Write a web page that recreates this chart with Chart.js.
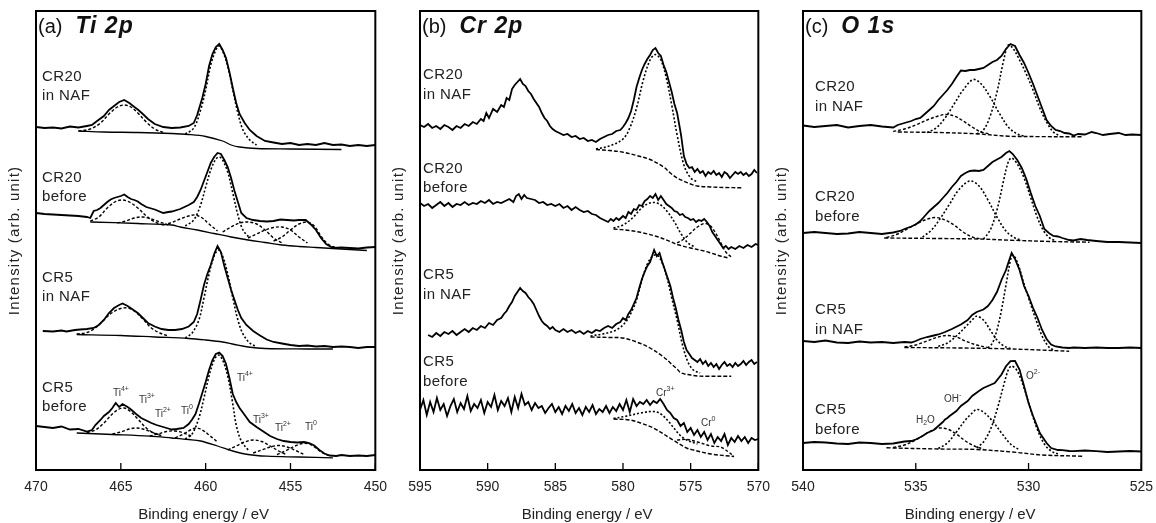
<!DOCTYPE html>
<html>
<head>
<meta charset="utf-8">
<script src="https://cdn.jsdelivr.net/npm/chart.js@4.4.1/dist/chart.umd.min.js"></script>
<style>
  body { margin: 0; background: #fff; width: 1156px; height: 523px; overflow: hidden; position: relative; }
  canvas { position: absolute; top: 0; }
</style>
</head>
<body>
<canvas id="tiChart" width="396" height="523" style="left:0px"></canvas>
<canvas id="crChart" width="395" height="523" style="left:384px"></canvas>
<canvas id="oChart" width="395" height="523" style="left:767px"></canvas>
<script>
/* ---- (a) Ti 2p : [binding energy, intensity] ---- */
const tiNaf20 = [[470,343],[469.5,342],[469,342.5],[468.5,341.5],[468,343.5],[467.5,342.5],[467,344],[466.7,345],[466.4,349],[466,354],[465.7,360],[465.4,364],[465.1,368],[464.8,370],[464.5,367],[464.2,363],[464,360.5],[463.7,356],[463.4,351],[463,346],[462.5,343],[462,342],[461.5,342.5],[461,344],[460.7,347],[460.5,355],[460.2,372],[460,386],[459.8,404],[459.6,416],[459.4,423],[459.2,426],[459,420],[458.8,412],[458.6,398],[458.4,382],[458.2,367],[458,356],[457.7,347],[457.4,340],[457,334],[456.5,329],[456,327.5],[455.5,326],[455,327],[454.5,325],[454,326],[453.5,325],[453,327],[452.5,325],[452,325.5],[451.5,324],[451,325],[450.5,324],[450,325]];
const tiNaf20Bg = [[467.5,339],[466,338],[464,337.5],[462,336.5],[461,335.5],[460,333.5],[459,329],[458.5,325],[458,323],[457,321.5],[455,321],[452,320.5]];
const tiNaf20P1 = [[467.5,339],[466.8,341],[466.2,347],[465.7,356],[465.2,363],[464.8,365],[464.4,363],[464,357],[463.5,348],[463,341],[462.5,337.5]];
const tiNaf20P3 = [[461.2,336],[460.7,342],[460.3,360],[460,380],[459.7,405],[459.4,420],[459.2,424],[459,419],[458.7,404],[458.4,380],[458.1,357],[457.8,340],[457.4,330],[457,325]];

const tiBef20 = [[470,257],[469.5,256],[469,255.5],[468.5,255],[468,254.5],[467.5,254],[467,253],[466.8,252],[466.6,259],[466.4,260],[466.2,262],[466,265],[465.8,268],[465.6,270.5],[465.4,272],[465.2,273],[465,274],[464.8,275.5],[464.6,273],[464.4,271],[464.2,270],[464,268.5],[463.8,266],[463.5,263],[463,260.5],[462.5,257],[462.2,258],[462,258.5],[461.5,261],[461,265],[460.7,268],[460.5,273],[460.3,280],[460.1,289],[459.9,298],[459.7,307],[459.5,313],[459.3,317],[459.1,316],[458.9,310],[458.7,303],[458.5,292],[458.3,279],[458.1,268],[457.9,257],[457.6,252],[457.2,250],[456.8,249],[456.4,248.5],[456,249],[455.6,250.5],[455.2,250],[454.8,249.5],[454.5,250],[454.1,250],[453.8,245.5],[453.5,240],[453.2,232],[452.9,226],[452.5,222],[452,222.5],[451.5,222],[451,221.5],[450.5,222.5],[450,223]];
const tiBef20Bg = [[466.8,248],[464,246.5],[462,245],[461.5,243],[460.5,240],[459.5,236.5],[458.5,233],[457.5,230],[456.5,227.5],[455.5,225],[454.5,223.5],[453.5,222.5],[452.5,221.5],[451.5,220.5],[450.5,219.5]];
const tiBef20Ti4a = [[466.8,249],[466.3,253],[465.8,262],[465.3,268.5],[464.9,270],[464.5,268],[464,262],[463.5,254],[463,248],[462.5,245]];
const tiBef20Ti3a = [[465.2,247],[464.7,249],[464.2,252],[463.7,253],[463.2,251],[462.7,248],[462.2,245]];
const tiBef20Ti0a = [[462.5,245],[462,247.5],[461.5,251],[461,254],[460.6,255],[460.2,252],[459.8,246],[459.3,239]];
const tiBef20Ti4b = [[461.2,244],[460.7,250],[460.3,265],[460,283],[459.7,300],[459.4,311],[459.2,313],[459,310],[458.7,298],[458.4,277],[458.1,255],[457.8,240],[457.4,232]];
const tiBef20Ti3b = [[459,238],[458.5,243],[458,247],[457.5,248],[457,246],[456.5,240],[456,232],[455.5,227]];
const tiBef20Ti2b = [[457.5,232],[457,236],[456.5,240],[456,242.5],[455.5,243],[455,240],[454.5,233],[454,227]];
const tiBef20Ti0b = [[456,229],[455.5,233],[455,240],[454.5,246],[454,248],[453.6,244],[453.2,234],[452.8,226],[452.3,222]];

const tiNaf5 = [[469.6,139],[469,138.5],[468.5,139.5],[468.2,138.5],[467.7,140],[467.4,140.5],[467,141],[466.6,142],[466.3,145],[466,150],[465.7,157],[465.4,162],[465.1,165],[464.9,166.5],[464.6,164],[464.3,160.5],[464,157],[463.7,152],[463.4,147],[463,143.5],[462.6,141],[462.2,140],[461.8,140],[461.4,141],[461,143.5],[460.7,148],[460.5,156],[460.3,170],[460.1,185],[459.9,196],[459.7,205],[459.5,216],[459.3,224],[459.1,218],[458.9,204],[458.7,192],[458.5,180],[458.3,170],[458.1,160],[457.9,152],[457.6,145],[457.2,139],[456.8,134.5],[456.4,130.5],[456,128],[455.5,126.5],[455,125],[454.5,124],[454,124.5],[453.5,123.5],[453,124],[452.5,123],[452,123.5],[451.5,123],[451,122],[450.5,123],[450,123]];
const tiNaf5Bg = [[467.6,135.5],[465,134.5],[463,133],[461,131.5],[460,130],[459,128],[458.3,125.5],[457.5,123],[456.5,121.5],[454,121],[452.5,121]];
const tiNaf5P1 = [[467.6,136],[467,137.5],[466.5,142],[466,150],[465.5,157.5],[465,161.5],[464.6,162],[464.2,159],[463.7,151],[463.2,142],[462.7,137],[462.2,134]];
const tiNaf5P3 = [[461.2,132],[460.8,137],[460.4,150],[460.1,172],[459.8,196],[459.5,214],[459.25,220],[459,214],[458.7,196],[458.4,172],[458.1,150],[457.8,136],[457.4,127],[457,123.5]];

const tiBef5 = [[470,44],[469.5,43],[469,42],[468.5,43.5],[468,40.5],[467.5,41],[467,38.5],[466.7,40],[466.5,45],[466.2,50],[466,54],[465.7,58],[465.5,62],[465.3,67],[465.1,63],[464.9,66],[464.6,63],[464.4,60.5],[464.1,56],[463.8,52],[463.5,49.5],[463.2,47],[462.9,45],[462.6,43.5],[462.3,42],[462,40.5],[461.7,41],[461.3,42],[461,46],[460.8,50.5],[460.6,56],[460.4,66],[460.2,77],[460,88],[459.8,100],[459.6,110],[459.4,116],[459.2,117.5],[459,114],[458.8,106],[458.6,92],[458.4,76],[458.2,68],[458,62],[457.7,55],[457.4,48],[457,43],[456.6,38.5],[456.2,34],[455.8,31],[455.4,29],[455,28],[454.6,27.5],[454.2,28],[453.9,27],[453.6,24.5],[453.3,20],[453,16.5],[452.7,14.5],[452.3,14],[452,15],[451.5,14],[451,14.5],[450.5,14],[450,15]];
const tiBef5Bg = [[467.6,37],[465.5,35.5],[463.3,33.8],[462,32],[461,30.5],[460.3,29],[459.3,24],[458.4,19],[457.5,15.5],[456.4,13.8],[454.5,13],[452.5,12.2]];
const tiBef5Ti4a = [[467,37.5],[466.5,40],[466,47],[465.5,56],[465.1,61],[464.8,62],[464.4,58],[464,51],[463.5,42],[463,36.5],[462.5,34]];
const tiBef5Ti3a = [[465.5,36],[465,38],[464.5,41],[464.1,42],[463.7,41],[463.2,38],[462.7,35]];
const tiBef5Ti2a = [[463.3,34],[462.8,36],[462.3,38.5],[461.8,39],[461.3,37],[460.8,33.5]];
const tiBef5Ti0a = [[461.8,32],[461.3,36],[460.9,40],[460.55,42],[460.2,40],[459.8,35],[459.3,28]];
const tiBef5Ti4b = [[461.2,31],[460.8,36],[460.4,52],[460.1,72],[459.8,94],[459.5,110],[459.25,115],[459,110],[458.7,94],[458.4,66],[458.2,45],[457.9,29],[457.5,20]];
const tiBef5Ti3b = [[458.7,20],[458.2,24],[457.7,28],[457.2,30],[456.7,28.5],[456.2,24],[455.7,19],[455.2,15]];
const tiBef5Ti2b = [[457.2,17],[456.7,20],[456.2,23],[455.7,24.5],[455.2,23],[454.7,19.5],[454.2,15.5]];
const tiBef5Ti0b = [[455.8,15.5],[455.3,19],[454.8,23.5],[454.3,26.5],[453.9,26],[453.5,22],[453.1,17],[452.6,14]];

/* ---- (b) Cr 2p ---- */
const crNaf20 = [[595,345],[594.7,343],[594.4,346],[594.1,342],[593.8,344],[593.5,341],[593.2,345],[592.9,343],[592.6,340],[592.3,344],[592,342],[591.7,346],[591.4,344],[591.1,348],[590.8,346],[590.5,351],[590.3,349],[590.1,357],[589.9,352],[589.6,361],[589.3,358],[589,365],[588.8,363],[588.6,372],[588.4,370],[588.2,381],[588,385],[587.8,388],[587.6,391],[587.4,386],[587.2,384],[587,379],[586.8,376],[586.6,371],[586.4,367],[586.2,363],[586,357],[585.8,352],[585.6,349],[585.4,344],[585.2,341],[585,339],[584.7,337],[584.4,335],[584.1,336],[583.8,333],[583.5,334],[583.2,331],[582.9,332],[582.6,329],[582.3,330],[582,328],[581.7,331],[581.4,333],[581.1,335],[580.8,336],[580.5,339],[580.2,340],[580,343],[579.8,347],[579.6,352],[579.4,359],[579.2,370],[579,383],[578.8,392],[578.6,400],[578.4,406],[578.2,411],[578,415],[577.8,420],[577.6,422],[577.4,417],[577.2,414],[577,405],[576.8,398],[576.6,388],[576.4,378],[576.2,366],[576,357],[575.8,342],[575.7,334],[575.5,314],[575.3,306],[575.1,302],[574.9,303],[574.7,298],[574.5,301],[574.3,297],[574.1,299],[573.9,294],[573.7,298],[573.5,296],[573.3,299],[573.1,295],[572.9,297],[572.7,293],[572.5,298],[572.3,296],[572.1,292],[571.9,295],[571.7,298],[571.5,296],[571.3,298],[571.1,295],[570.9,297],[570.7,294],[570.5,296],[570.3,300],[570.1,297]];
const crNaf20Bg = [[582,320.5],[581,319.5],[580,317.8],[579,314.5],[578,310.5],[577,303],[576.5,297],[576,292],[575.5,288.8],[575,286],[574.5,284],[573.5,283],[572.5,282.5],[571.2,282.2]];
const crNaf20Cr3 = [[582,321],[581,324],[580,331],[579.5,342],[579,362],[578.5,390],[578,410],[577.6,415.5],[577.2,410],[576.8,392],[576.4,365],[576,335],[575.5,305],[575,292],[574.5,288]];

const crBef20 = [[595,267],[594.7,264],[594.4,266],[594.1,262],[593.8,265],[593.5,268],[593.2,264],[592.9,267],[592.6,263],[592.3,266],[592,265],[591.7,268],[591.4,265],[591.1,267],[590.8,266],[590.5,269],[590.2,267],[589.9,270],[589.6,266],[589.3,268],[589,267],[588.7,269],[588.4,271],[588.1,268],[587.9,274],[587.7,276],[587.5,271],[587.3,275],[587.1,272],[586.8,271],[586.5,270],[586.2,267],[585.9,268],[585.6,265],[585.3,266],[585,264],[584.7,266],[584.4,262],[584.1,264],[583.8,260],[583.5,263],[583.2,260],[582.9,258],[582.6,259],[582.3,256],[582,255],[581.7,252],[581.4,250],[581.1,248],[580.9,251],[580.7,249],[580.5,252],[580.3,250],[580,254],[579.8,252],[579.6,258],[579.4,256],[579.2,261],[579,260],[578.8,265],[578.6,264],[578.4,269],[578.2,271],[578,274],[577.8,272],[577.6,276],[577.4,270],[577.2,274],[577,270],[576.8,266],[576.6,264],[576.4,262],[576.2,259],[576,258],[575.8,255],[575.6,256],[575.4,253],[575.2,252],[575,250],[574.8,251],[574.6,248],[574.4,250],[574.2,249],[574,251],[573.8,248],[573.6,244],[573.4,238],[573.2,234],[573,230],[572.8,226],[572.6,222],[572.4,224],[572.2,221],[572,223],[571.7,221],[571.4,224],[571.1,222],[570.8,225],[570.5,223],[570.2,226],[570,225]];
const crBef20Bg = [[580.7,241],[579.5,239.5],[578.5,237],[577.5,233.5],[576.5,228.5],[576,225.5],[575,222],[574,219],[573.5,217],[572.8,214],[572.2,212]];
const crBef20Cr3 = [[580.7,242],[580,245],[579.3,252],[578.7,261],[578.2,266],[577.7,267.5],[577.2,265],[576.7,258],[576.2,248],[575.7,236],[575.2,227],[574.7,223]];
const crBef20Cr0 = [[576,227],[575.5,231],[575,237],[574.5,243],[574,246.5],[573.6,245],[573.2,238],[572.8,228],[572.4,218],[572,213]];

const crNaf5 = [[594.4,135],[594.1,133],[593.8,137],[593.5,134],[593.2,138],[592.9,136],[592.6,139],[592.3,135],[592,138],[591.7,141],[591.4,138],[591.1,142],[590.8,140],[590.5,144],[590.2,142],[589.9,147],[589.6,145],[589.3,150],[589,152],[588.8,156],[588.6,159],[588.4,164],[588.2,168],[588,174],[587.8,178],[587.6,182],[587.4,179],[587.2,177],[587,173],[586.8,170],[586.6,166],[586.4,160],[586.2,154],[586,149],[585.8,146],[585.6,144],[585.4,141],[585.2,143],[585,140],[584.7,138],[584.4,141],[584.1,138],[583.8,140],[583.5,137],[583.2,139],[582.9,136],[582.6,139],[582.3,137],[582,140],[581.7,139],[581.4,142],[581.1,144],[580.8,142],[580.5,146],[580.2,148],[580,152],[579.8,150],[579.6,156],[579.4,160],[579.2,166],[579,172],[578.8,182],[578.6,191],[578.4,198],[578.2,204],[578,208],[577.8,216],[577.7,220],[577.5,214],[577.3,217],[577.1,208],[576.9,200],[576.7,192],[576.5,184],[576.3,172],[576.1,162],[575.9,150],[575.7,140],[575.5,128],[575.3,120],[575.1,116],[574.9,112],[574.7,110],[574.5,108],[574.3,111],[574.1,106],[573.9,109],[573.7,104],[573.5,107],[573.3,103],[573.1,106],[572.9,101],[572.7,105],[572.5,108],[572.3,104],[572.1,106],[571.9,103],[571.7,107],[571.5,104],[571.3,106],[571.1,109],[570.9,105],[570.7,108],[570.5,110],[570.3,106],[570.1,108]];
const crNaf5Bg = [[582.4,133],[581,132.5],[580,132],[579,128],[578,122],[577,113],[576.5,107],[576,101],[575.7,97],[575,95],[574.5,94],[573.8,93.8],[572,93.8]];
const crNaf5Cr3 = [[582.4,134],[581.5,136],[580.5,140],[579.8,148],[579.3,160],[579,170],[578.6,190],[578.2,206],[577.8,214],[577.5,215],[577.2,210],[576.8,195],[576.4,172],[576,150],[575.6,125],[575.2,108],[574.8,100],[574.3,97]];

const crBef5 = [[595,60],[594.75,70],[594.5,55],[594.25,68],[594,58],[593.75,72],[593.5,60],[593.25,66],[593,54],[592.75,64],[592.5,71],[592.25,58],[592,67],[591.75,61],[591.5,74],[591.25,59],[591,66],[590.75,62],[590.5,70],[590.25,57],[590,68],[589.75,63],[589.5,75],[589.25,60],[589,69],[588.75,64],[588.5,72],[588.25,58],[588,73],[587.75,62],[587.5,76],[587.25,65],[587,68],[586.75,60],[586.5,67],[586.25,62],[586,64],[585.75,57],[585.5,62],[585.25,66],[585,58],[584.75,63],[584.5,56],[584.25,64],[584,59],[583.75,66],[583.5,57],[583.25,62],[583,55],[582.75,63],[582.5,58],[582.25,65],[582,56],[581.75,61],[581.5,58],[581.25,64],[581,57],[580.75,63],[580.5,59],[580.25,66],[580,60],[579.75,70],[579.5,58],[579.25,71],[579,64],[578.75,68],[578.5,66],[578.25,70],[578,65],[577.75,69],[577.5,67],[577.25,71],[577,66],[576.75,60],[576.5,57],[576.25,52],[576,50],[575.75,44],[575.5,47],[575.25,38],[575,42],[574.75,35],[574.5,40],[574.25,33],[574,38],[573.75,30],[573.5,36],[573.25,27],[573,33],[572.75,29],[572.5,36],[572.25,25],[572,32],[571.75,28],[571.5,34],[571.25,29],[571,33],[570.75,27],[570.5,32],[570.25,30],[570,31]];
const crBef5Bg = [[580.7,51],[579.5,50],[578.7,47],[577.75,42],[576.3,30],[575.3,22],[574.8,20],[573.5,16],[571.8,13.5]];
const crBef5Cr3 = [[580.7,51.5],[579.7,54],[578.7,57],[577.75,58.5],[577.2,56],[576.6,48],[576.3,43],[575.8,35],[575.3,30],[574.5,26]];
const crBef5Cr0 = [[576,30],[575.3,30.5],[574.5,28],[573.5,24],[572.8,23],[572.2,18],[571.8,13.5]];

/* ---- (c) O 1s ---- */
const oNaf20 = [[540,344.5],[539.5,343],[539,344],[538.5,345],[538,342.5],[537.5,344],[537,345],[536.5,343.5],[536,342.5],[535.8,345],[535.5,347],[535.2,349],[535,351],[534.8,352],[534.6,356],[534.4,360],[534.2,364],[534,370],[533.8,375],[533.6,380],[533.4,386],[533.2,393],[533,399.5],[532.8,399],[532.6,400],[532.4,400],[532.2,401],[532,402],[531.8,405],[531.6,408],[531.4,410],[531.2,414],[531,421],[530.8,426],[530.6,424],[530.4,415],[530.2,407],[530,397],[529.8,386],[529.6,374],[529.4,362],[529.2,350],[529,344],[528.8,340],[528.6,339],[528.4,337],[528.2,336.5],[528,334.5],[527.8,336],[527.5,335.5],[527.2,338],[527,337],[526.7,335],[526.4,336],[526,337],[525.7,335],[525.4,335.5],[525,335]];
const oNaf20Bg = [[535.8,338],[534,337.5],[532.3,336.2],[530.9,333.8],[529.5,333.4],[527.6,333.2]];
const oNaf20H2O = [[536,338.5],[535.5,341],[535,345],[534.5,350],[534,354],[533.7,355.5],[533.3,354],[532.9,349],[532.5,343],[532.1,338],[531.7,336]];
const oNaf20OH = [[534.5,337.5],[534.1,342],[533.7,352],[533.3,366],[532.9,380],[532.45,390.5],[532.1,386],[531.7,373],[531.3,357],[530.9,343],[530.5,336],[530.2,334]];
const oNaf20O2 = [[532.3,336],[532,340],[531.7,354],[531.4,378],[531.1,410],[530.9,425],[530.7,422],[530.4,410],[530.1,396],[529.8,380],[529.5,362],[529.2,348],[528.9,338],[528.6,334]];

const oBef20 = [[540,237],[539.5,238],[539,237],[538.5,236],[538,236.5],[537.5,238],[537,237],[536.5,236],[536,237.5],[535.7,239],[535.5,241],[535.2,243.5],[535,245.5],[534.8,249],[534.6,254],[534.4,259],[534.2,263],[534,267],[533.8,272],[533.6,277],[533.4,283],[533.2,288],[533,294],[532.8,297],[532.6,299],[532.4,299.5],[532.2,299],[532,300],[531.8,304],[531.6,308],[531.4,310.5],[531.2,313],[531,317],[530.85,319],[530.7,316],[530.5,310],[530.3,302],[530.1,291],[529.9,277],[529.7,264],[529.5,254],[529.3,241],[529.1,237],[528.9,234],[528.7,233.5],[528.5,232],[528.2,230],[528,229.5],[527.7,231],[527.4,230],[527,229],[526.5,228],[526,228],[525.5,227.5],[525,227]];
const oBef20Bg = [[536.4,232],[534,231.5],[532.2,231],[530.8,229.8],[529,228.5],[527.3,227.8]];
const oBef20H2O = [[536.3,232.5],[535.8,236],[535.3,242],[534.8,248],[534.4,251.5],[534.1,252.5],[533.7,250],[533.3,245],[532.9,238],[532.5,233],[532.1,231]];
const oBef20OH = [[534.7,233],[534.3,240],[533.9,252],[533.5,266],[533.1,280],[532.6,289],[532.2,284],[531.8,270],[531.4,253],[531,239],[530.6,232],[530.3,230]];
const oBef20O2 = [[532,231],[531.7,240],[531.4,260],[531.1,290],[530.9,308],[530.75,312],[530.5,306],[530.2,292],[529.9,272],[529.6,252],[529.3,238],[529,231],[528.8,229.5]];

const oNaf5 = [[540,129],[539.5,128],[539,129.5],[538.5,127.5],[538,127],[537.5,128.5],[537,127.5],[536.5,128],[536,127],[535.5,128],[535.2,127.5],[535,129],[534.8,131],[534.5,133],[534.2,134.5],[534,135.5],[533.7,138],[533.4,141],[533,145.5],[532.7,150],[532.5,155],[532.3,158],[532,160.5],[531.8,164],[531.6,170],[531.4,178],[531.2,190],[531,200],[530.9,207],[530.75,217],[530.6,211],[530.4,200],[530.2,184],[530,174],[529.8,162],[529.6,152],[529.4,140],[529.2,131],[529,125.5],[528.8,123.5],[528.5,122.5],[528.2,122],[528,122.5],[527.5,122],[527,122.5],[526.5,122],[526,122],[525.5,122.5],[525,122]];
const oNaf5Bg = [[535.5,122.5],[533,122],[531,121.2],[529.5,120],[528.2,118.8]];
const oNaf5H2O = [[535.5,123],[535,125],[534.5,129],[534,133],[533.6,134.5],[533.2,133],[532.8,129],[532.3,125],[531.8,122.5]];
const oNaf5OH = [[534,123.5],[533.6,127],[533.2,134],[532.8,143],[532.5,150],[532.3,153.8],[532,150],[531.7,140],[531.4,130],[531.1,124],[530.8,121.5]];
const oNaf5O2 = [[531.8,122],[531.6,127],[531.4,140],[531.2,160],[531,185],[530.8,210],[530.7,215],[530.5,208],[530.2,186],[530,172],[529.7,152],[529.4,134],[529.1,123],[528.9,120]];

const oBef5 = [[540,27],[539.5,28],[539,27.5],[538.5,26.5],[538,26],[537.5,27.5],[537,27],[536.5,26],[536,26.5],[535.5,28.5],[535.2,29],[535,30.5],[534.7,34],[534.5,37],[534.2,40],[534,44],[533.8,48],[533.7,50.5],[533.6,52],[533.5,54],[533.2,59],[533,64],[532.7,69],[532.5,74],[532.2,79],[532,82],[531.8,84],[531.5,87],[531.2,95.5],[531,103.8],[530.8,108.8],[530.6,109],[530.4,100.5],[530.2,84],[530,67],[529.8,54],[529.5,37],[529.2,27],[529,22],[528.7,20],[528.5,19.8],[528.2,19],[528,18.8],[527.5,19.5],[527,18.8],[526.5,18],[526,18.5],[525.5,19],[525,18.5]];
const oBef5Bg = [[536.3,22.2],[534,21],[532.3,20.5],[530.5,17.5],[529.4,15],[527.6,13.8]];
const oBef5H2O = [[536,22.5],[535.5,25],[535,30],[534.5,37],[534.2,40.5],[534,42],[533.6,41],[533.2,36],[532.8,29],[532.4,24],[532,21]];
const oBef5OH = [[534,21.5],[533.6,27],[533.2,38],[532.8,50],[532.5,57],[532.3,60.5],[532,58],[531.6,49],[531.2,37],[530.8,26],[530.4,20]];
const oBef5O2 = [[532.3,22],[532,28],[531.7,40],[531.4,60],[531.1,85],[530.9,100],[530.75,104],[530.5,99],[530.2,82],[529.9,60],[529.6,40],[529.3,26],[529,19],[528.7,16]];

const xTickStep = 5;
const FONT = "'Liberation Sans', Arial, sans-serif";

/* line styles */
const STYLE = {
  exp:  { borderWidth: 1.8, borderDash: [] },
  comp: { borderWidth: 1.4, borderDash: [3, 2] },
  dot:  { borderWidth: 1.6, borderDash: [2, 2] },
  bg:   { borderWidth: 1.3, borderDash: [] },
  bgd:  { borderWidth: 1.4, borderDash: [4, 2] }
};

function ds(points, kind) {
  const s = STYLE[kind];
  return {
    data: points.map(p => ({ x: p[0], y: p[1] })),
    borderColor: '#000',
    borderWidth: s.borderWidth,
    borderDash: s.borderDash,
    pointRadius: 0,
    tension: kind === 'exp' ? 0 : 0.35,
    fill: false
  };
}

function drawRich(ctx, x, y, base, sup, sub, after) {
  ctx.font = '10px ' + FONT;
  ctx.fillText(base, x, y);
  let w = ctx.measureText(base).width;
  ctx.font = '7px ' + FONT;
  if (sup) { ctx.fillText(sup, x + w, y - 4); }
  if (sub) { ctx.fillText(sub, x + w, y + 3); w += ctx.measureText(sub).width; }
  if (after) { ctx.font = '10px ' + FONT; ctx.fillText(after, x + w, y); }
}

function makeChart(id, offsetX, xMin, xMax, datasets, panel, titleBold, samples, notes) {
  const deco = {
    id: 'deco',
    afterDraw(chart) {
      const ctx = chart.ctx;
      const a = chart.chartArea;
      const xs = chart.scales.x;
      ctx.save();
      ctx.strokeStyle = '#000';
      ctx.setLineDash([]);
      ctx.lineWidth = 1.3;
      xs.ticks.forEach(t => {
        const px = xs.getPixelForValue(t.value);
        ctx.beginPath();
        ctx.moveTo(px, a.bottom);
        ctx.lineTo(px, a.bottom - 7);
        ctx.stroke();
      });
      ctx.lineWidth = 2;
      ctx.strokeRect(a.left, a.top, a.right - a.left, a.bottom - a.top);

      // panel title
      ctx.fillStyle = '#111';
      ctx.textBaseline = 'alphabetic';
      ctx.font = '20px ' + FONT;
      ctx.fillText(panel, a.left + 2, 33);
      const w = ctx.measureText(panel).width;
      ctx.font = 'italic bold 23px ' + FONT;
      ctx.letterSpacing = '1px';
      ctx.fillText(titleBold, a.left + 2 + w + 13, 33);

      // axis titles
      ctx.fillStyle = '#222';
      ctx.font = '15px ' + FONT;
      ctx.textAlign = 'center';
      ctx.textBaseline = 'middle';
      ctx.letterSpacing = '0px';
      ctx.fillText('Binding energy / eV', (a.left + a.right) / 2 - 2, 515);
      ctx.save();
      ctx.translate(a.left - 21, (a.top + a.bottom) / 2);
      ctx.rotate(-Math.PI / 2);
      ctx.letterSpacing = '1.2px';
      ctx.fillText('Intensity (arb. unit)', 0, 0);
      ctx.restore();

      // sample names
      ctx.textAlign = 'left';
      ctx.letterSpacing = '0.4px';
      ctx.font = '15px ' + FONT;
      samples.forEach(s => ctx.fillText(s[0], s[1] - offsetX, s[2]));
      ctx.letterSpacing = '0px';
      ctx.fillStyle = '#333';
      notes.forEach(n => drawRich(ctx, n.x - offsetX, n.y, n.base, n.sup, n.sub, n.after));
      ctx.restore();
    }
  };
  return new Chart(document.getElementById(id), {
    type: 'line',
    data: { datasets: datasets },
    options: {
      responsive: false,
      animation: false,
      devicePixelRatio: 1,
      layout: { padding: { top: 11, right: 8, left: 0, bottom: 0 } },
      plugins: { legend: { display: false }, tooltip: { enabled: false } },
      scales: {
        x: {
          type: 'linear', reverse: true, min: xMin, max: xMax,
          ticks: { stepSize: xTickStep, color: '#222', font: { family: FONT, size: 14 }, padding: 9, maxRotation: 0 },
          grid: { display: false, drawTicks: false },
          border: { display: false },
          title: { display: false },
          afterFit(s) { s.height = 53; }
        },
        y: {
          min: 0, max: 459,
          ticks: { display: false },
          grid: { display: false, drawTicks: false },
          border: { display: false },
          title: { display: false },
          afterFit(s) { s.width = 36; }
        }
      }
    },
    plugins: [deco]
  });
}

const tiSets = [
  ds(tiNaf20Bg, 'bg'), ds(tiNaf20P1, 'comp'), ds(tiNaf20P3, 'dot'), ds(tiNaf20, 'exp'),
  ds(tiBef20Bg, 'bg'), ds(tiBef20Ti4a, 'comp'), ds(tiBef20Ti3a, 'comp'), ds(tiBef20Ti0a, 'comp'),
  ds(tiBef20Ti4b, 'dot'), ds(tiBef20Ti3b, 'comp'), ds(tiBef20Ti2b, 'comp'), ds(tiBef20Ti0b, 'comp'), ds(tiBef20, 'exp'),
  ds(tiNaf5Bg, 'bg'), ds(tiNaf5P1, 'comp'), ds(tiNaf5P3, 'dot'), ds(tiNaf5, 'exp'),
  ds(tiBef5Bg, 'bg'), ds(tiBef5Ti4a, 'comp'), ds(tiBef5Ti3a, 'comp'), ds(tiBef5Ti2a, 'comp'), ds(tiBef5Ti0a, 'comp'),
  ds(tiBef5Ti4b, 'dot'), ds(tiBef5Ti3b, 'comp'), ds(tiBef5Ti2b, 'comp'), ds(tiBef5Ti0b, 'comp'), ds(tiBef5, 'exp')
];
const crSets = [
  ds(crNaf20Bg, 'bgd'), ds(crNaf20Cr3, 'dot'), ds(crNaf20, 'exp'),
  ds(crBef20Bg, 'bgd'), ds(crBef20Cr3, 'dot'), ds(crBef20Cr0, 'comp'), ds(crBef20, 'exp'),
  ds(crNaf5Bg, 'bgd'), ds(crNaf5Cr3, 'dot'), ds(crNaf5, 'exp'),
  ds(crBef5Bg, 'bgd'), ds(crBef5Cr3, 'dot'), ds(crBef5Cr0, 'comp'), ds(crBef5, 'exp')
];
const oSets = [
  ds(oNaf20Bg, 'bgd'), ds(oNaf20H2O, 'comp'), ds(oNaf20OH, 'dot'), ds(oNaf20O2, 'dot'), ds(oNaf20, 'exp'),
  ds(oBef20Bg, 'bgd'), ds(oBef20H2O, 'comp'), ds(oBef20OH, 'dot'), ds(oBef20O2, 'dot'), ds(oBef20, 'exp'),
  ds(oNaf5Bg, 'bgd'), ds(oNaf5H2O, 'comp'), ds(oNaf5OH, 'dot'), ds(oNaf5O2, 'dot'), ds(oNaf5, 'exp'),
  ds(oBef5Bg, 'bgd'), ds(oBef5H2O, 'comp'), ds(oBef5OH, 'dot'), ds(oBef5O2, 'dot'), ds(oBef5, 'exp')
];

/* sample names: [text, page x, page y] */
const tiSamples = [['CR20', 42, 77], ['in NAF', 42, 96], ['CR20', 42, 178], ['before', 42, 197], ['CR5', 42, 278], ['in NAF', 42, 297], ['CR5', 42, 388], ['before', 42, 407]];
const crSamples = [['CR20', 423, 75], ['in NAF', 423, 95], ['CR20', 423, 169], ['before', 423, 188], ['CR5', 423, 275], ['in NAF', 423, 295], ['CR5', 423, 362], ['before', 423, 382]];
const oSamples = [['CR20', 815, 87], ['in NAF', 815, 107], ['CR20', 815, 197], ['before', 815, 217], ['CR5', 815, 310], ['in NAF', 815, 330], ['CR5', 815, 410], ['before', 815, 430]];

const tiNotes = [
  { x: 113, y: 393, base: 'Ti', sup: '4+' }, { x: 139, y: 400, base: 'Ti', sup: '3+' },
  { x: 155, y: 414, base: 'Ti', sup: '2+' }, { x: 181, y: 411, base: 'Ti', sup: '0' },
  { x: 237, y: 378, base: 'Ti', sup: '4+' }, { x: 253, y: 420, base: 'Ti', sup: '3+' },
  { x: 275, y: 428, base: 'Ti', sup: '2+' }, { x: 305, y: 427, base: 'Ti', sup: '0' }
];
const crNotes = [{ x: 656, y: 393, base: 'Cr', sup: '3+' }, { x: 701, y: 423, base: 'Cr', sup: '0' }];
const oNotes = [
  { x: 1026, y: 376, base: 'O', sup: '2-' }, { x: 944, y: 399, base: 'OH', sup: '-' },
  { x: 916, y: 420, base: 'H', sub: '2', after: 'O' }
];

makeChart('tiChart', 0, 450, 470, tiSets, '(a)', 'Ti 2p', tiSamples, tiNotes);
makeChart('crChart', 384, 570, 595, crSets, '(b)', 'Cr 2p', crSamples, crNotes);
makeChart('oChart', 767, 525, 540, oSets, '(c)', 'O 1s', oSamples, oNotes);
</script>
</body>
</html>
